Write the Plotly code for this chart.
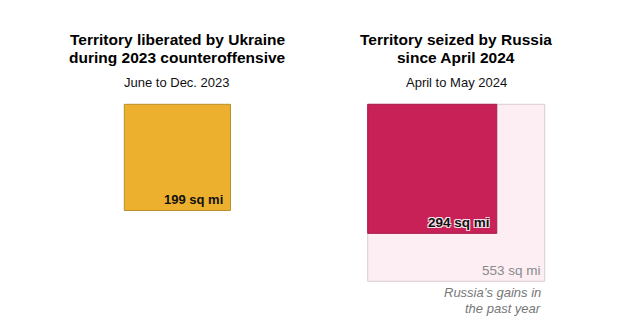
import math
import plotly.graph_objects as go

# ---- data ----
panel_titles = [
    ["Territory liberated by Ukraine", "during 2023 counteroffensive"],
    ["Territory seized by Russia", "since April 2024"],
]
panel_subtitles = ["June to Dec. 2023", "April to May 2024"]
ukraine_areas = [199]            # sq mi, June-Dec 2023
russia_areas = [553, 294]        # sq mi: past year, since April 2024
russia_labels = ["553 sq mi", "294 sq mi"]
ukraine_labels = ["199 sq mi"]
note_lines = ["Russia’s gains in", "the past year"]

# ---- layout helpers ----
W, H = 637, 333
K = 7.527  # pixels per sqrt(sq mi)


def px(v):
    return v / K


FONT = "Liberation Sans, Arial, sans-serif"
YELLOW = "#EDB02E"
YELLOW_EDGE = "#B8902E"
RED = "#C82157"
RED_EDGE = "#A81C4B"
PINK = "#FCEEF2"
PINK_EDGE = "#D9CDD1"

fig = go.Figure()

shapes = []
annotations = []

# left panel: Ukraine
lx, ly = px(124.3), px(104.3)
s = math.sqrt(ukraine_areas[0])
shapes.append(dict(type="rect", xref="x", yref="y", x0=lx, x1=lx + s, y0=ly, y1=ly + s,
                   fillcolor=YELLOW, line=dict(color=YELLOW_EDGE, width=1), layer="below"))
annotations.append(dict(x=lx + s, y=ly + s, xref="x", yref="y", text=f"<b>{ukraine_labels[0]}</b>",
                        showarrow=False, xanchor="right", yanchor="bottom", xshift=-5, yshift=1.5,
                        font=dict(family=FONT, size=13, color="#111")))
left_cx = lx + s / 2

# right panel: Russia
rx, ry = px(367.7), px(104.3)
big = math.sqrt(russia_areas[0])
small = math.sqrt(russia_areas[1])
shapes.append(dict(type="rect", xref="x", yref="y", x0=rx, x1=rx + big, y0=ry, y1=ry + big,
                   fillcolor=PINK, line=dict(color=PINK_EDGE, width=1), layer="below"))
shapes.append(dict(type="rect", xref="x", yref="y", x0=rx, x1=rx + small, y0=ry, y1=ry + small,
                   fillcolor=RED, line=dict(color=RED_EDGE, width=1), layer="below"))
halo = "#F9E1E9"
annotations.append(dict(x=rx + small, y=ry + small, xref="x", yref="y", text=f"<b>{russia_labels[1]}</b>",
                        showarrow=False, xanchor="right", yanchor="bottom", xshift=-5, yshift=1.5,
                        font=dict(family=FONT, size=13.5, color="#111",
                                  shadow=f"-1px -1px 0 {halo}, 1px -1px 0 {halo}, -1px 1px 0 {halo}, 1px 1px 0 {halo}")))
annotations.append(dict(x=rx + big, y=ry + big, xref="x", yref="y", text=russia_labels[0],
                        showarrow=False, xanchor="right", yanchor="bottom", xshift=-2, yshift=1.5,
                        font=dict(family=FONT, size=13.5, color="#8A8A8A")))
right_cx = rx + big / 2

# note under the right panel
for i, line in enumerate(note_lines):
    annotations.append(dict(x=rx + big, y=ry + big, xref="x", yref="y", text=f"<i>{line}</i>",
                            showarrow=False, xanchor="right", yanchor="top", xshift=-2, yshift=-2 - 15.5 * i,
                            font=dict(family=FONT, size=13, color="#777")))

# titles and subtitles
for cx, tl, sub in [(left_cx, panel_titles[0], panel_subtitles[0]),
                    (right_cx, panel_titles[1], panel_subtitles[1])]:
    for i, line in enumerate(tl):
        annotations.append(dict(x=cx, y=px(39 + 18.7 * i), xref="x", yref="y", text=f"<b>{line}</b>",
                                showarrow=False, xanchor="center", yanchor="middle",
                                font=dict(family=FONT, size=15.5, color="#000")))
    annotations.append(dict(x=cx, y=px(82), xref="x", yref="y", text=sub,
                            showarrow=False, xanchor="center", yanchor="middle",
                            font=dict(family=FONT, size=13, color="#111")))

fig.update_layout(
    width=W, height=H, margin=dict(l=0, r=0, t=0, b=0),
    paper_bgcolor="white", plot_bgcolor="white",
    xaxis=dict(range=[0, px(W)], visible=False, fixedrange=True),
    yaxis=dict(range=[px(H), 0], visible=False, fixedrange=True),
    shapes=shapes, annotations=annotations, showlegend=False,
)

fig.write_html("out.html", config={"displayModeBar": False})
